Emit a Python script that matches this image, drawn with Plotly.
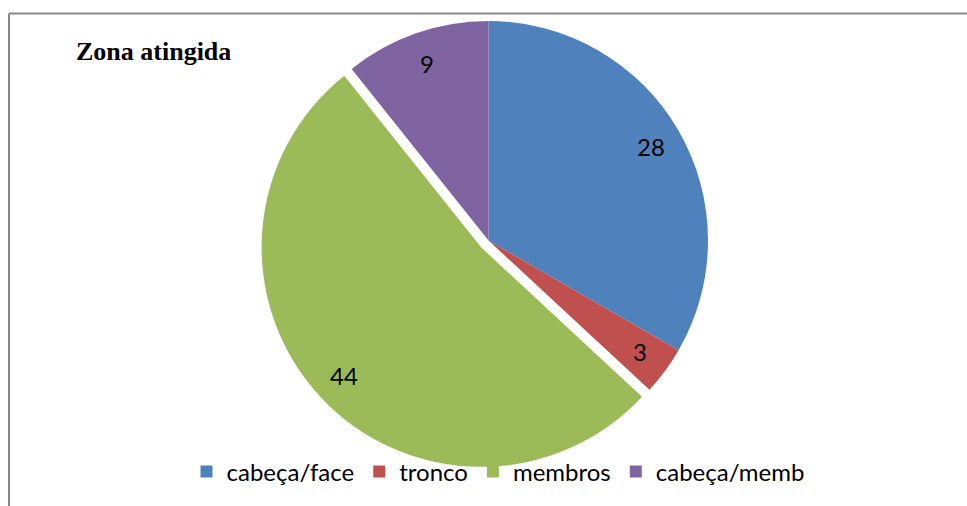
import math
import plotly.graph_objects as go

# Injury location counts
categories = ["cabeça/face", "tronco", "membros", "cabeça/memb"]
values = [28, 3, 44, 9]
colors = ["#4F81BD", "#C0504D", "#9BBB59", "#8064A2"]
pulls = [0, 0, 0.046, 0]

W, H = 967, 506

# Pie domain in pixels (left, right, top, bottom)
dom_l, dom_r, dom_t, dom_b = 258.9, 718.1, 10.9, 470.1
dom_x = [dom_l / W, dom_r / W]
dom_y = [1 - dom_b / H, 1 - dom_t / H]

fig = go.Figure(
    go.Pie(
        labels=categories,
        values=values,
        sort=False,
        direction="clockwise",
        rotation=0,
        pull=pulls,
        marker=dict(colors=colors, line=dict(width=0)),
        textinfo="none",
        domain=dict(x=dom_x, y=dom_y),
        hoverinfo="label+value",
    )
)

# Value labels placed near the rim of each slice, along its mid angle
cx = (dom_l + dom_r) / 2
cy = (dom_t + dom_b) / 2
radius = (dom_r - dom_l) / (2 * (1 + max(pulls)))
label_frac = 0.855
total = sum(values)
start = 0.0
for val, pull in zip(values, pulls):
    mid = math.radians((start + val / 2) / total * 360)
    start += val
    rr = radius * (label_frac + pull)
    px = cx + rr * math.sin(mid)
    py = cy - rr * math.cos(mid)
    fig.add_annotation(
        text=str(val), xref="paper", yref="paper",
        x=px / W, y=1 - py / H, xanchor="center", yanchor="middle",
        showarrow=False, font=dict(family="Lato", size=24, color="black"),
    )

# Chart frame (top and left edges)
frame = dict(color="#888888", width=2)
fig.add_shape(type="line", xref="paper", yref="paper",
              x0=9 / W, x1=1.0, y0=1 - 13.5 / H, y1=1 - 13.5 / H, line=frame)
fig.add_shape(type="line", xref="paper", yref="paper",
              x0=9 / W, x1=9 / W, y0=1 - 13.5 / H, y1=0, line=frame)

fig.add_annotation(
    text="<b>Zona atingida</b>", xref="paper", yref="paper",
    x=74 / W, y=1 - 52 / H, xanchor="left", yanchor="middle", showarrow=False,
    font=dict(family="Liberation Serif", size=26, color="black"),
)

fig.update_layout(
    width=W, height=H,
    margin=dict(l=0, r=0, t=0, b=0),
    paper_bgcolor="white",
    plot_bgcolor="white",
    legend=dict(
        orientation="h", x=0.515, xanchor="center", y=1 - 472 / H, yanchor="middle",
        font=dict(family="Lato", size=24, color="black"),
        itemwidth=30, bgcolor="rgba(0,0,0,0)",
    ),
)

fig.write_html("out.html")
